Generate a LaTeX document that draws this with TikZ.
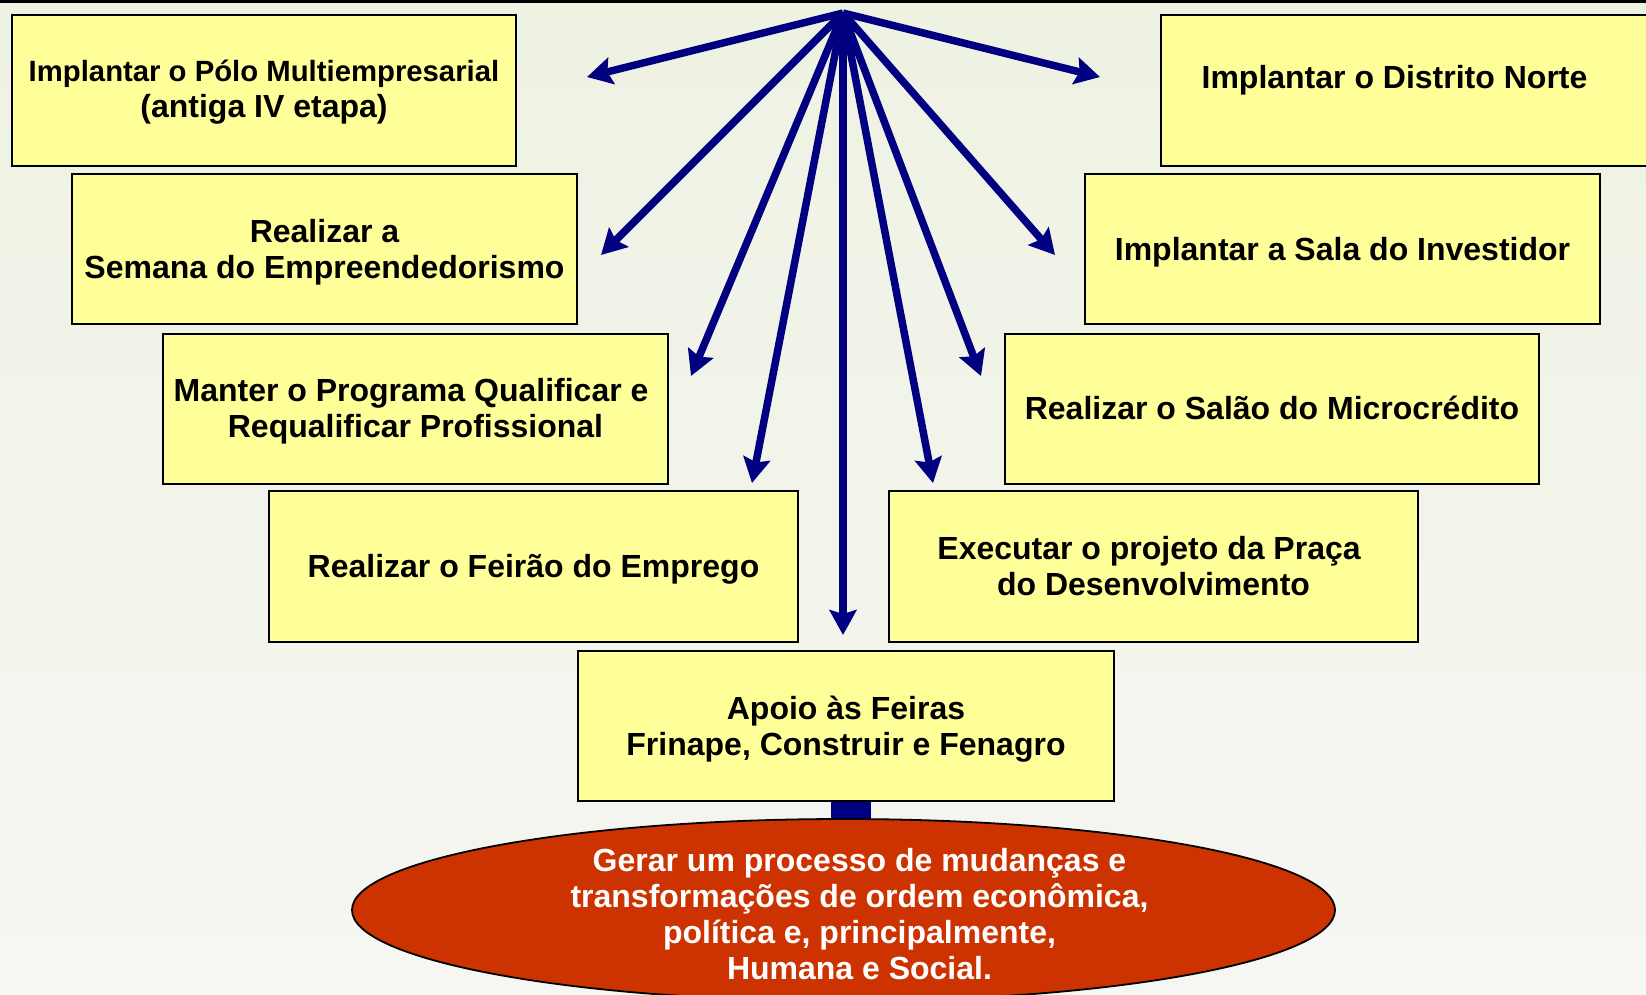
\documentclass[tikz,border=0pt]{standalone}
\usepackage{fontspec}
\setmainfont{Liberation Sans}
\usetikzlibrary{arrows.meta,shapes.geometric,backgrounds}
\definecolor{boxyellow}{RGB}{255,255,153}
\definecolor{navyarrow}{RGB}{0,0,128}
\definecolor{goalred}{RGB}{204,51,0}
\definecolor{bgtop}{RGB}{238,242,226}
\definecolor{bgbot}{RGB}{246,246,243}
\begin{document}
\begin{tikzpicture}[x=1pt,y=-1pt,
  box/.style={draw=black, line width=1.8pt, fill=boxyellow, inner sep=0pt,
    minimum height=151pt},
  boxtext/.style={inner sep=0pt, align=center, font=\fontsize{32}{36}\selectfont\bfseries},
  spoke/.style={navyarrow, line width=7.5pt, -{Stealth[length=25pt,width=27pt,inset=4pt]}},
  goalstyle/.style={ellipse, draw=black, line width=1.8pt, fill=goalred, inner sep=0pt,
    minimum width=983pt, minimum height=182pt}]
\useasboundingbox (0,0) rectangle (1646,994);
\begin{scope}[on background layer]
  \shade[top color=bgtop, bottom color=bgbot] (0,0) rectangle (1646,994);
  \fill[black] (0,0) rectangle (1646,2.5);
\end{scope}

% boxes
\node[box, minimum width=504pt] (polo) at (264,90.5) {};
\node[box, minimum width=510pt] (norte) at (1416,90.5) {};
\node[box, minimum width=505pt, minimum height=150pt] (semana) at (324.5,249) {};
\node[box, minimum width=515pt, minimum height=150pt] (sala) at (1342.5,249) {};
\node[box, minimum width=505pt, minimum height=150pt] (manter) at (415.5,409) {};
\node[box, minimum width=534pt, minimum height=150pt] (salao) at (1272,409) {};
\node[box, minimum width=529pt] (feirao) at (533.5,566.5) {};
\node[box, minimum width=529pt] (praca) at (1153.5,566.5) {};
\node[box, minimum width=536pt, minimum height=150pt] (apoio) at (846,726) {};
\node[goalstyle] (goal) at (843.5,910) {};

% texts
\node[boxtext] (polot) at (264,92.5)
  {{\fontsize{29.3}{34}\selectfont Implantar o Pólo Multiempresarial}\\(antiga IV etapa)};
\node[boxtext] (nortet) at (1394.5,80) {Implantar o Distrito Norte};
\node[boxtext] (semanat) at (324.5,252.5) {Realizar a\\Semana do Empreendedorismo};
\node[boxtext] (salat) at (1342.5,252) {Implantar a Sala do Investidor};
\node[boxtext] (mantert) at (415.5,411) {Manter o Programa Qualificar e\hspace*{8.9pt}\\Requalificar Profissional};
\node[boxtext] (salaot) at (1272,408) {Realizar o Salão do Microcrédito};
\node[boxtext] (feiraot) at (533.5,569.5) {Realizar o Feirão do Emprego};
\node[boxtext] (pracat) at (1153.5,566.5) {Executar o projeto da Praça\hspace*{8.9pt}\\do Desenvolvimento};
\node[boxtext] (apoiot) at (846,729) {Apoio às Feiras\\Frinape, Construir e Fenagro};
\node[boxtext, text=white] (goalt) at (859.5,914.5)
  {Gerar um processo de mudanças e\\transformações de ordem econômica,\\política e, principalmente,\\Humana e Social.};

\coordinate (barx) at (851,0);
\begin{scope}[on background layer]
  \draw[navyarrow, line width=40pt] (apoio.center -| barx) -- (goal.center -| barx);
\end{scope}

% spokes
\coordinate (hub) at (843,13);
\coordinate (tpolo) at (587,77);
\coordinate (tnorte) at (1100,77);
\coordinate (tsemana) at (601,255);
\coordinate (tsala) at (1055,255);
\coordinate (tmanter) at (691,376);
\coordinate (tsalao) at (981,376);
\coordinate (tfeirao) at (752,483);
\coordinate (tpraca) at (933,483);
\coordinate (tapoio) at (843,635);
\foreach \t in {tpolo,tnorte,tsemana,tsala,tmanter,tsalao,tfeirao,tpraca,tapoio}
  \draw[spoke] (hub) -- (\t);
\end{tikzpicture}
\end{document}
